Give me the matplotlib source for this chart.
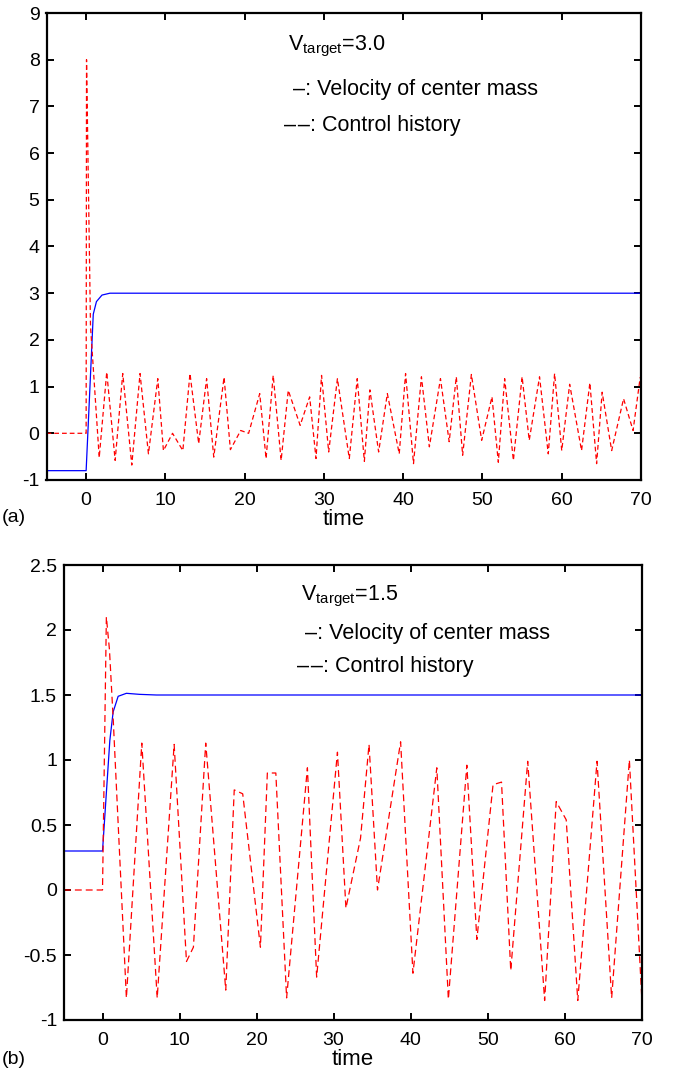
import matplotlib
matplotlib.use("Agg")
import matplotlib.pyplot as plt

plt.rcParams['font.family'] = ['Liberation Sans', 'DejaVu Sans']
plt.rcParams['mathtext.fontset'] = 'custom'
plt.rcParams['mathtext.rm'] = 'Liberation Sans'
plt.rcParams['mathtext.it'] = 'Liberation Sans'
plt.rcParams['axes.unicode_minus'] = False

# ---- Panel (a) data ----
a_vel_t = [-5, 0, 0.9, 1.3, 2.0, 3.0, 70]
a_vel_v = [-0.8, -0.8, 2.55, 2.82, 2.96, 3.0, 3.0]

a_ctrl_t = [-5, 0, 0.05, 0.55, 1.65, 2.6, 3.66, 4.62, 5.76, 6.8, 7.86, 9.04, 9.75, 10.9, 12.2,
            13.1, 14.2, 15.2, 16.1, 17.4, 18.2, 19.5, 20.5, 21.9, 22.7, 23.6, 24.6, 25.5, 27.0,
            28.2, 29.0, 29.7, 30.6, 31.7, 33.2, 34.2, 35.1, 35.8, 36.9, 38.0, 39.5, 40.3, 41.3,
            42.3, 43.3, 44.7, 45.8, 46.7, 47.5, 48.6, 49.9, 51.2, 52.0, 52.8, 53.9, 55.0, 55.9,
            57.2, 58.3, 59.1, 60.0, 61.0, 62.5, 63.55, 64.4, 65.1, 66.3, 67.8, 69.0, 69.9]
a_ctrl_v = [0, 0, 8.0, 2.3, -0.52, 1.31, -0.58, 1.28, -0.68, 1.28, -0.44, 1.17, -0.37, 0.0, -0.37,
            1.28, -0.22, 1.17, -0.51, 1.2, -0.35, 0.06, 0.0, 0.85, -0.54, 1.24, -0.58, 0.92, 0.17,
            0.78, -0.54, 1.24, -0.4, 1.17, -0.54, 1.17, -0.6, 0.93, -0.4, 0.85, -0.44, 1.28, -0.65,
            1.21, -0.29, 1.17, -0.18, 1.21, -0.47, 1.26, -0.15, 0.78, -0.62, 1.17, -0.58, 1.21, -0.15,
            1.21, -0.44, 1.28, -0.37, 1.05, -0.37, 1.08, -0.65, 0.88, -0.37, 0.74, 0.06, 1.2]

# ---- Panel (b) data ----
b_vel_t = [-5, 0, 0.95, 1.38, 2.03, 3.1, 4.8, 7.0, 70]
b_vel_v = [0.3, 0.3, 1.15, 1.37, 1.49, 1.513, 1.505, 1.5, 1.5]

b_ctrl_t = [-5, 0, 0.5, 0.9, 1.4, 3.1, 5.1, 7.1, 9.3, 10.9, 11.8, 13.4, 16.0, 17.1, 18.2, 20.5,
            21.4, 22.5, 23.9, 26.6, 27.8, 30.5, 31.6, 33.5, 34.6, 35.7, 38.7, 40.3, 43.4, 44.9,
            47.3, 48.6, 50.7, 51.8, 53.0, 55.2, 57.4, 58.9, 60.2, 61.7, 64.2, 66.1, 68.4, 70.0]
b_ctrl_v = [0, 0, 2.1, 1.85, 1.3, -0.83, 1.13, -0.83, 1.12, -0.55, -0.44, 1.13, -0.77, 0.77, 0.74, -0.44,
            0.90, 0.90, -0.83, 0.94, -0.67, 1.06, -0.14, 0.40, 1.12, 0.0, 1.14, -0.64, 0.94, -0.84,
            0.96, -0.38, 0.81, 0.83, -0.62, 0.99, -0.85, 0.68, 0.54, -0.85, 0.99, -0.83, 1.0, -0.82]

a_yticks = [-1, 0, 1, 2, 3, 4, 5, 6, 7, 8, 9]
b_yticks = [-1, -0.5, 0, 0.5, 1, 1.5, 2, 2.5]
b_yticklabels = ['-1', '-0.5', '0', '0.5', '1', '1.5', '2', '2.5']
xticks = [0, 10, 20, 30, 40, 50, 60, 70]

W, H = 678, 1076
fig = plt.figure(figsize=(W / 100, H / 100), dpi=100)

def px_axes(l, r, t, b):
    return fig.add_axes([l / W, 1 - b / H, (r - l) / W, (b - t) / H])

axA = px_axes(46.5, 641, 13, 480)
axB = px_axes(64, 641.7, 565, 1020)

fs_tick = 14
fs_txt = 15.5
for ax in (axA, axB):
    for s in ax.spines.values():
        s.set_linewidth(1.6)
    ax.tick_params(direction='in', length=5, width=1.4, top=True, right=True,
                   labelsize=fs_tick)
    ax.tick_params(axis='x', pad=8.5)
    ax.tick_params(axis='y', pad=5)
    ax.set_xticks(xticks)
    ax.set_xlim(-5, 70)
    ax.set_xlabel('time', fontsize=16, labelpad=0)

axA.plot(a_vel_t, a_vel_v, color='#0000ff', lw=0.9)
axA.plot(a_ctrl_t, a_ctrl_v, color='#ff0000', lw=0.9, dashes=(3.8, 2.4))
axA.set_ylim(-1, 9)
axA.set_yticks(a_yticks)
axA.text(0.406, 0.929, r'V$_{\mathrm{target}}$=3.0', transform=axA.transAxes,
         fontsize=fs_txt, ha='left', va='center')
axA.text(0.415, 0.837, '\u2013: Velocity of center mass', transform=axA.transAxes,
         fontsize=fs_txt, ha='left', va='center')
axA.text(0.400, 0.760, '\u2013\u200a\u2013: Control history', transform=axA.transAxes,
         fontsize=fs_txt, ha='left', va='center')

axB.plot(b_vel_t, b_vel_v, color='#0000ff', lw=0.9)
axB.plot(b_ctrl_t, b_ctrl_v, color='#ff0000', lw=0.9, dashes=(5.5, 3.2))
axB.set_ylim(-1, 2.5)
axB.set_yticks(b_yticks)
axB.set_yticklabels(b_yticklabels)
axB.text(0.41, 0.93, r'V$_{\mathrm{target}}$=1.5', transform=axB.transAxes,
         fontsize=fs_txt, ha='left', va='center')
axB.text(0.418, 0.85, '\u2013: Velocity of center mass', transform=axB.transAxes,
         fontsize=fs_txt, ha='left', va='center')
axB.text(0.403, 0.776, '\u2013\u200a\u2013: Control history', transform=axB.transAxes,
         fontsize=fs_txt, ha='left', va='center')

fig.text(2 / W, 1 - 518 / H, '(a)', fontsize=fs_tick, ha='left', va='center')
fig.text(2 / W, 1 - 1060 / H, '(b)', fontsize=fs_tick, ha='left', va='center')

fig.savefig('out.png', dpi=100)
